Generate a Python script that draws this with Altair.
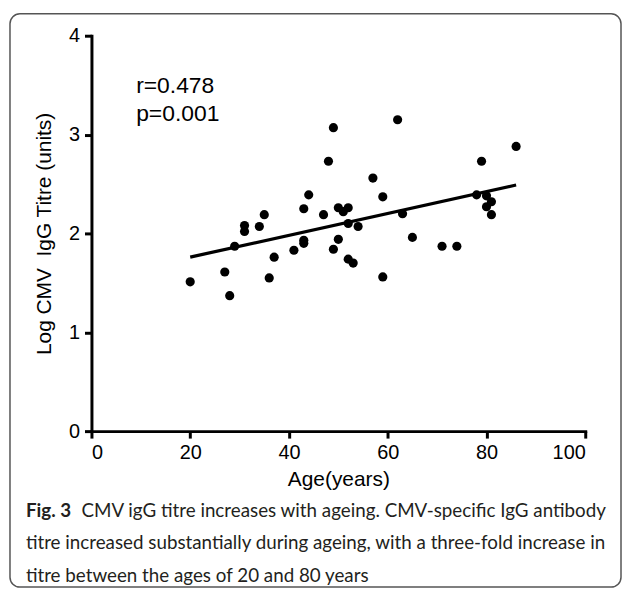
import altair as alt
import pandas as pd

# ---- data ----
ages = [20, 27, 28, 29, 31, 31, 34, 35, 36, 37, 41, 43, 43, 43, 44, 47, 48, 49, 49,
        50, 50, 51, 52, 52, 52, 53, 54, 57, 59, 59, 62, 63, 65, 71, 74, 78, 79, 80,
        81, 80, 81, 86]
titres = [1.51, 1.61, 1.37, 1.87, 2.08, 2.02, 2.07, 2.19, 1.55, 1.76, 1.83, 1.93, 1.90,
          2.25, 2.39, 2.19, 2.73, 3.07, 1.84, 2.26, 1.94, 2.22, 2.26, 2.10, 1.74, 1.70,
          2.07, 2.56, 2.37, 1.56, 3.15, 2.20, 1.96, 1.87, 1.87, 2.39, 2.73, 2.38, 2.32,
          2.27, 2.19, 2.88]
fit_x = [20, 86]
fit_y = [1.76, 2.49]
x_ticks = [0, 20, 40, 60, 80, 100]
y_ticks = [0, 1, 2, 3, 4]
stat_lines = ["r=0.478", "p=0.001"]
caption_bold = "Fig. 3"
caption_lines = [
    "CMV igG titre increases with ageing. CMV-specific IgG antibody",
    "titre increased substantially during ageing, with a three-fold increase in",
    "titre between the ages of 20 and 80 years",
]

pts = pd.DataFrame({"age": ages, "titre": titres})
fit = pd.DataFrame({"age": fit_x, "titre": fit_y})
one = pd.DataFrame({"k": [0]})

W, H = 497, 398
FONT = "Liberation Sans"
CAP = "Lato"
CAPSIZE = 18.9

xs = alt.Scale(domain=[0, 100], nice=False)
ys = alt.Scale(domain=[0, 4], nice=False)

points = alt.Chart(pts).mark_circle(size=85, color="black", opacity=1).encode(
    x=alt.X("age:Q", scale=xs, axis=alt.Axis(
        values=x_ticks, format="d", title="Age(years)", titleX=W / 2, titleY=49,
        titleBaseline="middle", titleAnchor="middle")),
    y=alt.Y("titre:Q", scale=ys, axis=alt.Axis(
        values=y_ticks, format="d", title="Log CMV\u00a0 IgG Titre (units)", titleX=-47,
        titleY=H / 2, titleBaseline="middle", titleAnchor="middle", titleAngle=-90)),
)

line = alt.Chart(fit).mark_line(color="black", strokeWidth=3.2).encode(
    x=alt.X("age:Q", scale=xs), y=alt.Y("titre:Q", scale=ys)
)

border = alt.Chart(one).mark_rect(
    filled=False, stroke="#555", strokeWidth=1.5, cornerRadius=10
).encode(x=alt.value(-82), x2=alt.value(533), y=alt.value(-22), y2=alt.value(555))

stat1 = alt.Chart(one).mark_text(
    text=stat_lines[0], font=FONT, fontSize=23, align="left", baseline="alphabetic", color="black"
).encode(x=alt.value(45), y=alt.value(58))
stat2 = alt.Chart(one).mark_text(
    text=stat_lines[1], font=FONT, fontSize=23, align="left", baseline="alphabetic", color="black"
).encode(x=alt.value(45), y=alt.value(86))

capb = alt.Chart(one).mark_text(
    text=caption_bold, font=CAP, fontSize=CAPSIZE, fontWeight="bold", align="left",
    baseline="alphabetic", color="#231f20"
).encode(x=alt.value(-66), y=alt.value(484))
cap1 = alt.Chart(one).mark_text(
    text=caption_lines[0], font=CAP, fontSize=CAPSIZE, align="left",
    baseline="alphabetic", color="#231f20"
).encode(x=alt.value(-10), y=alt.value(484))
cap2 = alt.Chart(one).mark_text(
    text=caption_lines[1], font=CAP, fontSize=CAPSIZE, align="left",
    baseline="alphabetic", color="#231f20"
).encode(x=alt.value(-66), y=alt.value(517))
cap3 = alt.Chart(one).mark_text(
    text=caption_lines[2], font=CAP, fontSize=CAPSIZE, align="left",
    baseline="alphabetic", color="#231f20"
).encode(x=alt.value(-66), y=alt.value(550))

chart = alt.layer(border, line, points, stat1, stat2, capb, cap1, cap2, cap3).properties(
    width=W, height=H,
    padding={"left": 84, "top": 26, "right": 37, "bottom": 157},
    autosize=alt.AutoSizeParams(type="none"),
    background="white",
).configure_view(stroke=None).configure_axis(
    grid=False, domainColor="black", domainWidth=3, tickColor="black", tickWidth=3,
    tickSize=7, labelFont=FONT, labelFontSize=20, labelColor="black", labelPadding=5,
    titleFont=FONT, titleFontSize=21, titleFontWeight="normal", titleColor="black",
    domainCap="square",
)

chart.save("out.html", embed_options={"renderer": "svg", "actions": False})
